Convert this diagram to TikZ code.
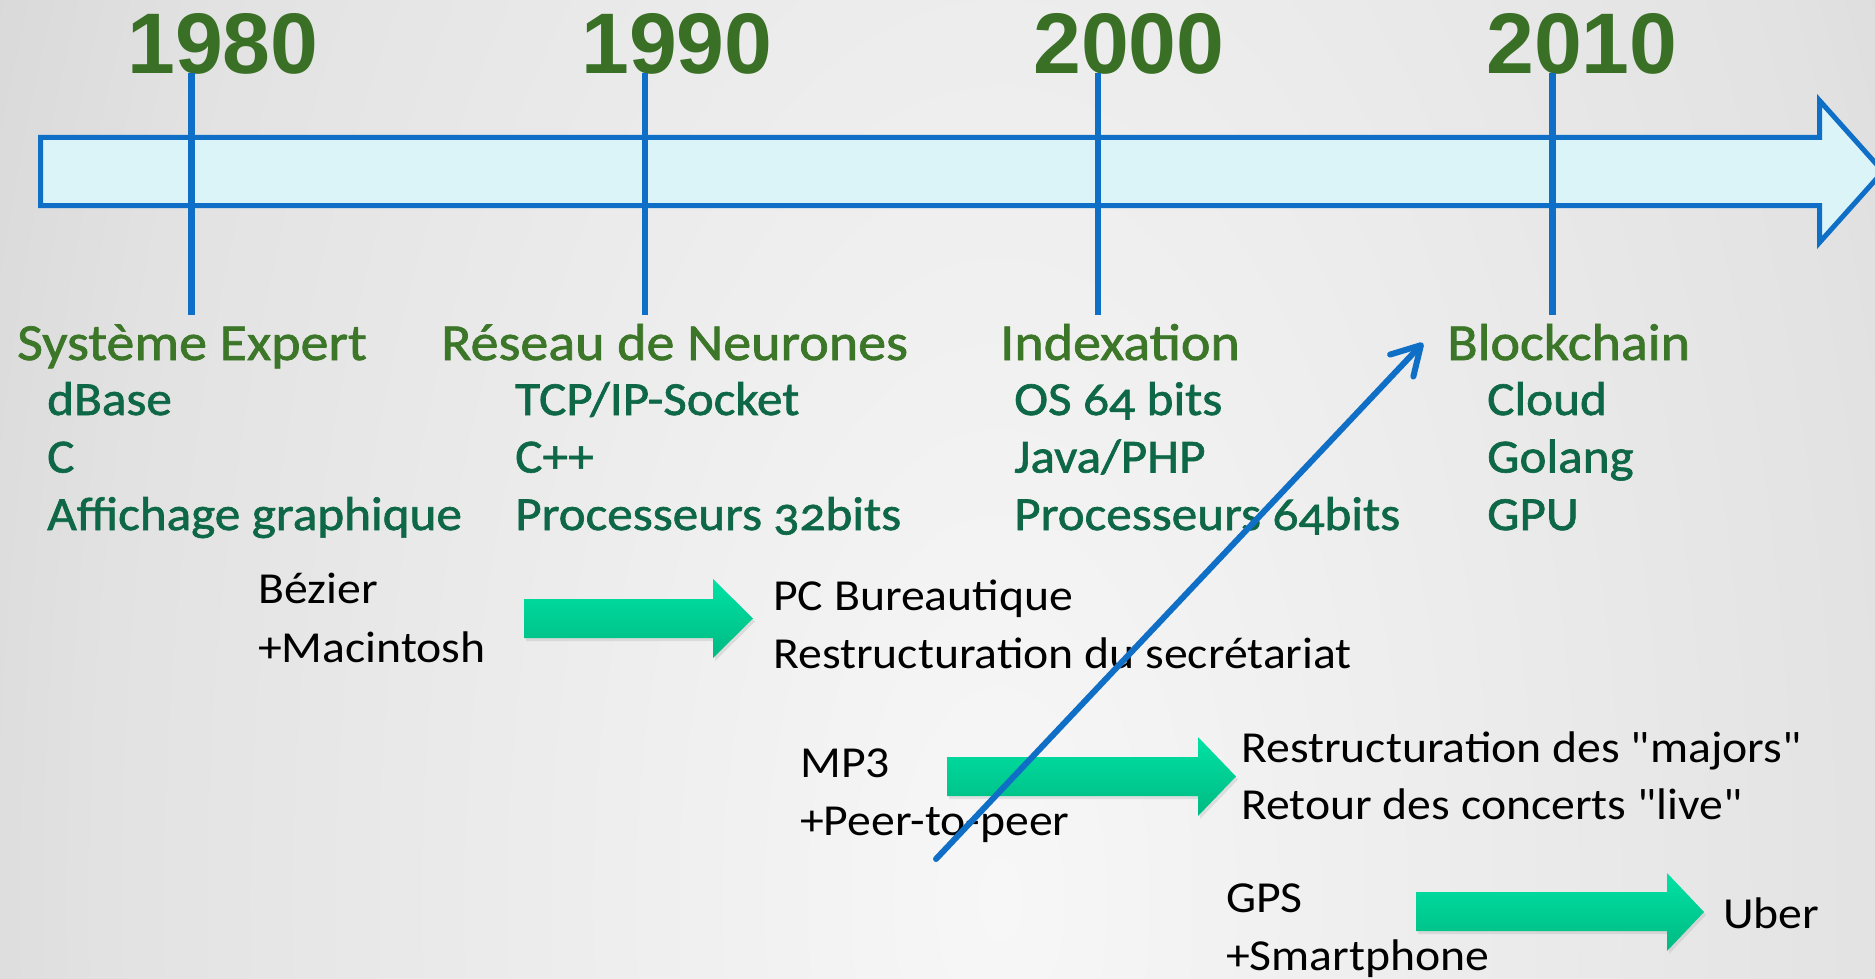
\documentclass[tikz,border=0pt]{standalone}
\usepackage{fontspec}
\setmainfont{Carlito}[Ligatures=TeXOff, FakeStretch=1.077]
\newfontfamily\greenfont{Carlito}[Numbers=OldStyle, FakeStretch=1.077, FakeBold=1.4]
\newfontfamily\yearfont{Liberation Sans}
\usetikzlibrary{arrows.meta,shadows}

\definecolor{yearcol}{RGB}{58,112,38}
\definecolor{headcol}{RGB}{60,118,40}
\definecolor{itemcol}{RGB}{14,104,72}
\definecolor{lineblue}{RGB}{15,111,198}
\definecolor{barfill}{RGB}{218,244,248}
\definecolor{greentop}{RGB}{0,226,164}
\definecolor{greenbot}{RGB}{0,186,130}
\definecolor{bg0}{RGB}{247,247,247}
\definecolor{bg1}{RGB}{226,226,226}
\definecolor{bg2}{RGB}{204,204,204}
\definecolor{bg3}{RGB}{180,180,180}
\definecolor{bg4}{RGB}{170,170,170}

% soft light patch in the lower middle, darker towards the sides
\pgfdeclareradialshading{bgshade}{\pgfpoint{0bp}{0bp}}{%
  color(0bp)=(bg0); color(22.5bp)=(bg1); color(35bp)=(bg2);
  color(45bp)=(bg3); color(50bp)=(bg4)}

\tikzset{
  yearlabel/.style={font=\yearfont\bfseries\fontsize{86}{86}\selectfont,
    text=yearcol, anchor=base, inner sep=0pt},
  headlabel/.style={font=\greenfont\fontsize{52}{52}\selectfont,
    text=headcol, anchor=base west, inner sep=0pt},
  itemlabel/.style={font=\greenfont\fontsize{47.5}{47.5}\selectfont,
    text=itemcol, anchor=base west, inner sep=0pt},
  notelabel/.style={font=\fontsize{44.3}{44.3}\selectfont,
    text=black, anchor=base west, inner sep=0pt},
  timebar/.style={draw=lineblue, fill=barfill, line width=5pt, line join=miter},
  yeartick/.style={draw=lineblue, line width=6.5pt},
  impact/.style={top color=greentop, bottom color=greenbot,
    drop shadow={opacity=0.18, shadow xshift=2pt, shadow yshift=-3pt}},
  leap/.style={draw=lineblue, line width=6pt, line cap=round,
    -{Straight Barb[length=28pt,width=32pt,round]}}
}

\begin{document}
\begin{tikzpicture}[x=1pt,y=-1pt]
\useasboundingbox (0,0) rectangle (1875,979);
\begin{scope}
\clip (0,0) rectangle (1875,979);

% background
\shade[shading=bgshade] (0,-1100) rectangle (2000,2900);

% time axis
\draw[timebar] (40.5,137.5) -- (1819.5,137.5) -- (1819.5,100.5) -- (1883,171.5)
  -- (1819.5,242.5) -- (1819.5,205.5) -- (40.5,205.5) -- cycle;

% decades
\node[yearlabel] (y1980) at (223,74) {1980};
\node[yearlabel] (y1990) at (677,74) {1990};
\node[yearlabel] (y2000) at (1129,74) {2000};
\node[yearlabel] (y2010) at (1582,74) {2010};

\coordinate (t1980a) at (191.5,73);  \coordinate (t1980b) at (191.5,315);
\coordinate (t1990a) at (645,73);    \coordinate (t1990b) at (645,315);
\coordinate (t2000a) at (1098,73);   \coordinate (t2000b) at (1098,315);
\coordinate (t2010a) at (1552.5,73); \coordinate (t2010b) at (1552.5,315);
\draw[yeartick] (t1980a) -- (t1980b);
\draw[yeartick] (t1990a) -- (t1990b);
\draw[yeartick] (t2000a) -- (t2000b);
\draw[yeartick] (t2010a) -- (t2010b);

% topics of each decade
\node[headlabel] (h1) at (17,360) {Système Expert};
\node[itemlabel] (h1a) at (47,415) {dBase};
\node[itemlabel] (h1b) at (47,472.5) {C};
\node[itemlabel] (h1c) at (47,530) {Affichage graphique};

\node[headlabel] (h2) at (441,360) {Réseau de Neurones};
\node[itemlabel] (h2a) at (515,415) {TCP/IP-Socket};
\node[itemlabel] (h2b) at (515,472.5) {C++};
\node[itemlabel] (h2c) at (515,530) {Processeurs 32bits};

\node[headlabel] (h3) at (1000,360) {Indexation};
\node[itemlabel] (h3a) at (1014,415) {OS 64 bits};
\node[itemlabel] (h3b) at (1014,472.5) {Java/PHP};
\node[itemlabel] (h3c) at (1014,530) {Processeurs 64bits};

\node[headlabel] (h4) at (1447,360) {Blockchain};
\node[itemlabel] (h4a) at (1487,415) {Cloud};
\node[itemlabel] (h4b) at (1487,472.5) {Golang};
\node[itemlabel] (h4c) at (1487,530) {GPU};

% causes and consequences
\node[notelabel] (c1a) at (258,603) {Bézier};
\node[notelabel] (c1b) at (258,662) {+Macintosh};
\node[notelabel] (e1a) at (773,610) {PC Bureautique};
\node[notelabel] (e1b) at (773,668) {Restructuration du secrétariat};

\node[notelabel] (c2a) at (800,777) {MP3};
\node[notelabel] (c2b) at (800,835) {+Peer-to-peer};
\node[notelabel] (e2a) at (1241,762) {Restructuration des "majors"};
\node[notelabel] (e2b) at (1241,819) {Retour des concerts "live"};

\node[notelabel] (c3a) at (1226,912) {GPS};
\node[notelabel] (c3b) at (1226,970) {+Smartphone};
\node[notelabel] (e3a) at (1723,928) {Uber};

\shade[impact] (524,599) -- (713,599) -- (713,579) -- (753,618.5) -- (713,658)
  -- (713,638) -- (524,638) -- cycle;
\shade[impact] (947,757) -- (1198,757) -- (1198,737) -- (1236,776.5) -- (1198,816)
  -- (1198,796) -- (947,796) -- cycle;
\shade[impact] (1416,892) -- (1667,892) -- (1667,873) -- (1704,912) -- (1667,951)
  -- (1667,931) -- (1416,931) -- cycle;

% the leap from peer-to-peer towards the blockchain
\coordinate (leapStart) at (936,859);
\coordinate (leapEnd) at (1423,343);
\draw[leap] (leapStart) -- (leapEnd);
\end{scope}
\end{tikzpicture}
\end{document}
